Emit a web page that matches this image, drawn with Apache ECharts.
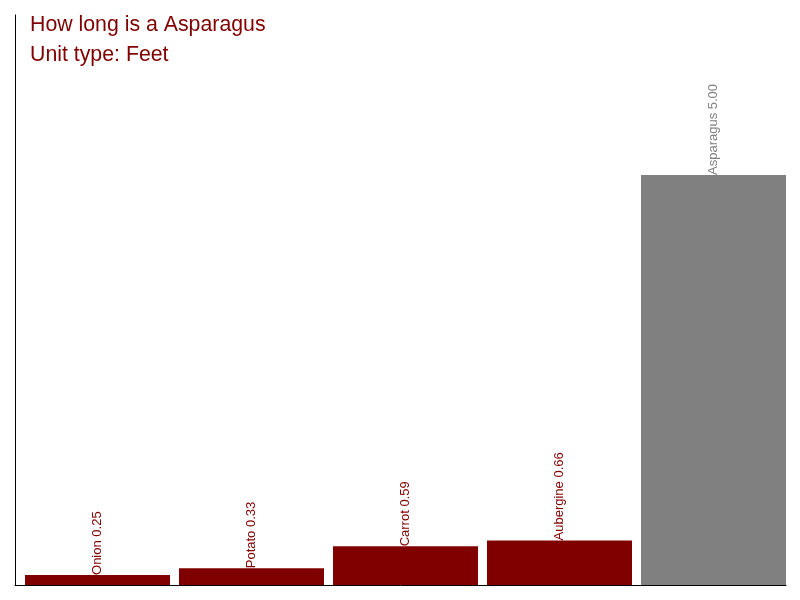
<!DOCTYPE html>
<html>
<head>
<meta charset="utf-8">
<script src="https://cdn.jsdelivr.net/npm/echarts@6/dist/echarts.min.js"></script>
<style>html,body{margin:0;padding:0;background:#fff}#c{width:800px;height:600px}</style>
</head>
<body>
<div id="c"></div>
<script>
var categories = ['Onion', 'Potato', 'Carrot', 'Aubergine', 'Asparagus'];
var values = [0.25, 0.33, 0.59, 0.66, 5.00];
var highlight = 'Asparagus';
var titleLines = ['How long is a Asparagus', 'Unit type: Feet'];

var yMin = 0.131, yMax = 6.9;
var chart = echarts.init(document.getElementById('c'));
var data = categories.map(function (c, i) {
  var col = c === highlight ? '#808080' : '#800000';
  return { value: values[i], itemStyle: { color: col }, label: { color: col } };
});
var tStyle = { color: '#800000', fontSize: 21.3, fontWeight: 'normal', fontFamily: 'Liberation Sans, Arial, sans-serif' };
chart.setOption({
  animation: false,
  title: [
    { text: titleLines[0], left: 30, top: 14.5, padding: 0, textStyle: tStyle },
    { text: titleLines[1], left: 30, top: 44.5, padding: 0, textStyle: tStyle }
  ],
  grid: [
    { left: 15, width: 771, top: 15, bottom: 15, containLabel: false },
    { left: 20.5, width: 770, top: 15, bottom: 15, containLabel: false }
  ],
  xAxis: [
    { type: 'category', gridIndex: 0, data: categories, axisLine: { lineStyle: { color: '#000', width: 1 } }, axisTick: { show: false }, axisLabel: { show: false } },
    { type: 'category', gridIndex: 1, data: categories, axisLine: { show: false }, axisTick: { show: false }, axisLabel: { show: false } }
  ],
  yAxis: [
    { type: 'value', gridIndex: 0, min: yMin, max: yMax, axisLine: { show: true, lineStyle: { color: '#000', width: 1 } }, axisTick: { show: false }, axisLabel: { show: false }, splitLine: { show: false } },
    { type: 'value', gridIndex: 1, min: yMin, max: yMax, axisLine: { show: false }, axisTick: { show: false }, axisLabel: { show: false }, splitLine: { show: false } }
  ],
  series: [{
    type: 'bar',
    xAxisIndex: 1,
    yAxisIndex: 1,
    data: data,
    barWidth: 145,
    label: {
      show: true,
      position: 'top',
      distance: 0,
      rotate: 90,
      align: 'left',
      verticalAlign: 'middle',
      fontSize: 13,
      fontFamily: 'Liberation Sans, Arial, sans-serif',
      formatter: function (p) { return p.name + ' ' + p.value.toFixed(2); }
    }
  }]
});
</script>
</body>
</html>
